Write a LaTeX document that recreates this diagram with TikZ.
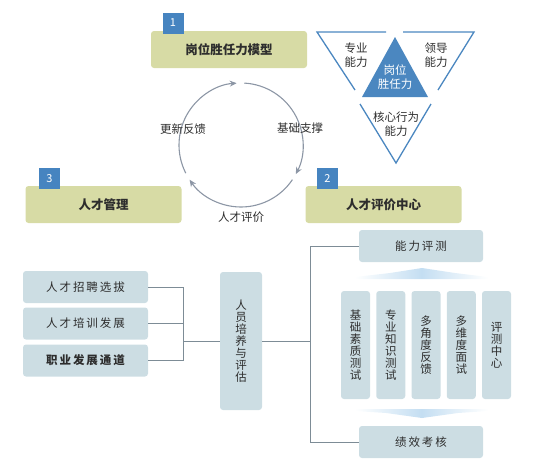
\documentclass[tikz,border=0pt]{standalone}
\usepackage{fontspec}
\setmainfont{Noto Sans CJK SC}
\usetikzlibrary{arrows.meta}
\definecolor{olivebox}{RGB}{215,219,165}
\definecolor{badgeblue}{RGB}{70,132,192}
\definecolor{lbox}{RGB}{204,221,227}
\definecolor{linec}{RGB}{125,140,150}
\definecolor{circc}{RGB}{140,150,165}
\definecolor{txt}{RGB}{45,45,45}
\definecolor{chev}{RGB}{196,222,242}
\definecolor{tri}{RGB}{75,135,192}
\begin{document}
\begin{tikzpicture}[x=1pt,y=-1pt,
  titlebox/.style={fill=olivebox, rounded corners=3pt, minimum width=156pt, minimum height=37pt, inner sep=0pt, font=\fontsize{12.5}{14}\selectfont\bfseries, text=txt},
  badgebox/.style={fill=badgeblue, minimum width=21pt, minimum height=21pt, inner sep=0pt, text=white, font=\fontsize{11}{12}\selectfont},
  lightbox/.style={fill=lbox, rounded corners=3pt, inner sep=0pt, text=txt, font=\fontsize{11.5}{12}\selectfont},
  vbox/.style={lightbox, minimum width=29pt, minimum height=108pt, align=center},
  hbox/.style={lightbox, minimum width=125pt, minimum height=32pt},
  conn/.style={draw=linec, line width=0.9pt},
  cyc/.style={draw=circc, line width=1.1pt, -{Stealth[length=7pt,width=6pt]}},
  lbl/.style={text=txt, font=\fontsize{11.5}{13}\selectfont, inner sep=0pt, align=center},
  triline/.style={draw=tri, line width=1.3pt}
]
\useasboundingbox (0,0) rectangle (550,469);

% top section boxes
\node[titlebox] (b1) at (229,49.5) {岗位胜任力模型};
\node[badgebox] (n1) at (173,23) {1};
\node[titlebox] (b3) at (103.5,204.5) {人才管理};
\node[badgebox] (n3) at (49.5,178.5) {3};
\node[titlebox] (b2) at (383.5,204.5) {人才评价中心};
\node[badgebox] (n2) at (327.5,178.5) {2};

% cycle
\coordinate (C) at (241,145);
\draw[cyc] ([shift={(-207:62)}]C) arc[start angle=-207, end angle=-94, radius=62];
\draw[cyc] ([shift={(-87:62)}]C) arc[start angle=-87, end angle=28, radius=62];
\draw[cyc] ([shift={(34:62)}]C) arc[start angle=34, end angle=146, radius=62];
\node[lbl] (l1) at (183,129) {更新反馈};
\node[lbl] (l2) at (300,128) {基础支撑};
\node[lbl] (l3) at (241,217) {人才评价};

% triangle model
\draw[triline] (386,32) -- (317,32) -- (355,90);
\draw[triline] (403,32) -- (474,32) -- (438,90);
\draw[triline] (360,104) -- (396,163) -- (431,104);
\fill[tri] (395,37) -- (428,97) -- (362,97) -- cycle;
\node[lbl] (t1) at (356,55) {专业\\[1pt]能力};
\node[lbl] (t2) at (436,55) {领导\\[1pt]能力};
\node[lbl, text=white] (t3) at (395,77) {岗位\\[1pt]胜任力};
\node[lbl] (t4) at (396,124) {核心行为\\[1pt]能力};

% left boxes
\node[hbox] (a1) at (85.5,287) {人\,才\,招\,聘\,选\,拔};
\node[hbox] (a2) at (85.5,323.5) {人\,才\,培\,训\,发\,展};
\node[hbox, font=\fontsize{11.5}{12}\selectfont\bfseries] (a3) at (85.5,360.5) {职\,业\,发\,展\,通\,道};
\node[lightbox, minimum width=42pt, minimum height=138pt, align=center] (pe) at (241,341) {人\\员\\培\\养\\与\\评\\估};
\coordinate (J) at (183,341);
\draw[conn] (a1.east) -| (J);
\draw[conn] (a2.east) -- (a2.east -| J);
\draw[conn] (a3.east) -| (J);
\draw[conn] (J) -- (pe.west);

% right part
\node[lightbox, minimum width=124pt, minimum height=32pt] (nl) at (421,246) {能\,力\,评\,测};
\node[lightbox, minimum width=124pt, minimum height=32pt] (jx) at (421,442) {绩\,效\,考\,核};
\coordinate (K) at (310,341);
\draw[conn] (pe.east) -- (K);
\draw[conn] (nl.west) -| (K);
\draw[conn] (jx.west) -| (K);

\node[vbox] (v1) at (355.5,345) {基\\础\\素\\质\\测\\试};
\node[vbox] (v2) at (390.75,345) {专\\业\\知\\识\\测\\试};
\node[vbox] (v3) at (426,345) {多\\角\\度\\反\\馈};
\node[vbox] (v4) at (461.25,345) {多\\维\\度\\面\\试};
\node[vbox] (v5) at (496.5,345) {评\\测\\中\\心};

% soft arrows
\shade[left color=white, right color=white, middle color=chev]
  (355,279) -- (355,277) -- (390,273) -- (422,268) -- (455,273) -- (488,277) -- (488,279) -- cycle;
\shade[left color=white, right color=white, middle color=chev]
  (355,409) -- (488,409) -- (488,411) -- (458,413) -- (422,418) -- (386,413) -- (355,411) -- cycle;
\end{tikzpicture}
\end{document}
